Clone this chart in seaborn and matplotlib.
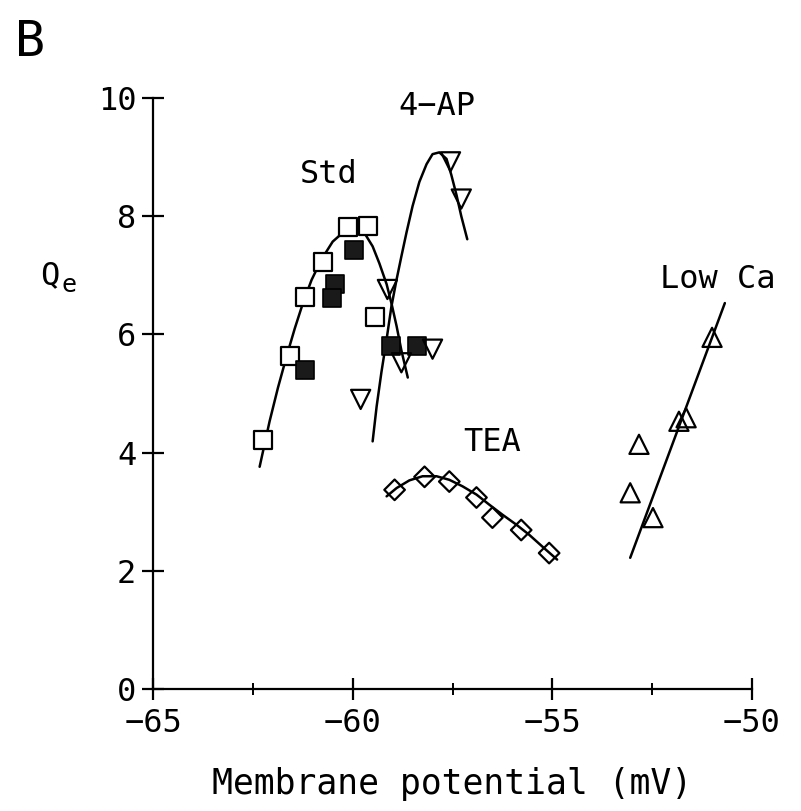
import matplotlib
matplotlib.use("Agg")
import matplotlib.pyplot as plt
import seaborn as sns

# ---- data ----
std_open_x = [-62.25, -61.58, -61.2, -60.75, -60.12, -59.62, -59.45]
std_open_y = [4.22, 5.63, 6.64, 7.22, 7.81, 7.83, 6.30]
std_fill_x = [-61.2, -60.45, -60.53, -59.97, -59.05, -58.4]
std_fill_y = [5.39, 6.85, 6.61, 7.42, 5.81, 5.81]
ap_x = [-59.8, -59.13, -58.78, -58.0, -57.55, -57.28]
ap_y = [4.90, 6.76, 5.52, 5.75, 8.92, 8.29]
tea_x = [-58.95, -58.2, -57.58, -56.9, -56.5, -55.78, -55.08]
tea_y = [3.37, 3.59, 3.51, 3.24, 2.90, 2.69, 2.30]
lowca_x = [-51.0, -51.83, -51.65, -52.83, -53.05, -52.48]
lowca_y = [5.95, 4.53, 4.59, 4.14, 3.32, 2.90]

# fitted curves
std_curve_x = [-62.33, -62.08, -61.87, -61.65, -61.45, -61.25, -61.03, -60.78, -60.5,
               -60.2, -60.05, -59.9, -59.7, -59.5, -59.33, -59.15, -59.03, -58.9, -58.78, -58.62]
std_curve_y = [3.76, 4.53, 5.10, 5.64, 6.10, 6.52, 6.92, 7.27, 7.57,
               7.75, 7.79, 7.79, 7.71, 7.49, 7.20, 6.85, 6.53, 6.14, 5.73, 5.27]
ap_curve_x = [-59.5, -59.4, -59.28, -59.15, -59.03, -58.9, -58.78, -58.65, -58.5,
              -58.33, -58.15, -58.0, -57.83, -57.65, -57.53, -57.4, -57.28, -57.13]
ap_curve_y = [4.19, 4.78, 5.36, 5.92, 6.47, 6.93, 7.32, 7.73, 8.17,
              8.58, 8.88, 9.05, 9.08, 8.97, 8.70, 8.36, 8.00, 7.61]
tea_curve_x = [-59.15, -58.9, -58.58, -58.25, -57.9, -57.58, -57.25, -56.9, -56.58,
               -56.25, -55.9, -55.58, -55.25, -54.88]
tea_curve_y = [3.26, 3.40, 3.53, 3.60, 3.60, 3.54, 3.43, 3.29, 3.12,
               2.95, 2.78, 2.61, 2.41, 2.19]
lowca_line_x = [-53.05, -50.68]
lowca_line_y = [2.22, 6.53]

xticks = [-65, -60, -55, -50]
yticks = [0, 2, 4, 6, 8, 10]

sns.set_style("ticks")
plt.rcParams['font.family'] = ['DejaVu Sans Mono', 'DejaVu Sans']
plt.rcParams['text.color'] = 'black'
plt.rcParams['xtick.color'] = 'black'
plt.rcParams['ytick.color'] = 'black'
plt.rcParams['axes.labelcolor'] = 'black'
plt.rcParams['axes.edgecolor'] = 'black'

fig = plt.figure(figsize=(8.01, 8.11), dpi=100)
ax = fig.add_axes([153/801, 1-689/811, (752-153)/801, (689-98)/811])

lw = 1.8
for cx, cy in [(std_curve_x, std_curve_y), (ap_curve_x, ap_curve_y),
               (tea_curve_x, tea_curve_y), (lowca_line_x, lowca_line_y)]:
    sns.lineplot(x=cx, y=cy, ax=ax, color='black', lw=lw, estimator=None, sort=False)

ms = 150
sns.scatterplot(x=std_open_x, y=std_open_y, ax=ax, marker='s', s=ms,
                facecolor='white', edgecolor='black', linewidth=1.6, zorder=3)
sns.scatterplot(x=std_fill_x, y=std_fill_y, ax=ax, marker='s', s=ms,
                facecolor='#1a1a1a', edgecolor='black', linewidth=1.2, zorder=3)
sns.scatterplot(x=ap_x, y=ap_y, ax=ax, marker='v', s=190,
                facecolor='none', edgecolor='black', linewidth=1.6, zorder=3)
sns.scatterplot(x=tea_x, y=tea_y, ax=ax, marker='D', s=110,
                facecolor='none', edgecolor='black', linewidth=1.6, zorder=3)
sns.scatterplot(x=lowca_x, y=lowca_y, ax=ax, marker='^', s=190,
                facecolor='none', edgecolor='black', linewidth=1.6, zorder=3)

ax.set_xlim(-65, -50)
ax.set_ylim(0, 10)
ax.set_xticks(xticks)
ax.set_xticks([-62.5, -57.5, -52.5], minor=True)
ax.set_yticks(yticks)
ax.set_xticklabels([str(t).replace('-', '\u2212') for t in xticks])
for s in ['top', 'right']:
    ax.spines[s].set_visible(False)
for s in ['left', 'bottom']:
    ax.spines[s].set_linewidth(1.6)
ax.tick_params(axis='both', which='major', direction='inout', length=16, width=1.6,
               labelsize=23, color='black', labelcolor='black')
ax.tick_params(axis='x', which='major', pad=6)
ax.tick_params(axis='y', which='major', pad=4)
ax.tick_params(axis='x', which='minor', direction='inout', length=9, width=1.4)
ax.set_xlabel('Membrane potential (mV)', fontsize=25, labelpad=20, color='black')
ax.set_ylabel('')

tk = dict(fontsize=23, color='black')
ax.text(-57.9, 9.85, '4\u2212AP', ha='center', va='center', **tk)
ax.text(-60.6, 8.7, 'Std', ha='center', va='center', **tk)
ax.text(-56.5, 4.17, 'TEA', ha='center', va='center', **tk)
ax.text(-52.3, 6.93, 'Low Ca', ha='left', va='center', clip_on=False, **tk)

fig.text(40/801, 1-284/811, 'Q', fontsize=23, ha='left', va='baseline', color='black')
fig.text(61/801, 1-292/811, 'e', fontsize=18, ha='left', va='baseline', color='black')
fig.text(15/801, 1-56/811, 'B', fontsize=36, ha='left', va='baseline', color='black')

fig.savefig('out.png', dpi=100, facecolor='white')
